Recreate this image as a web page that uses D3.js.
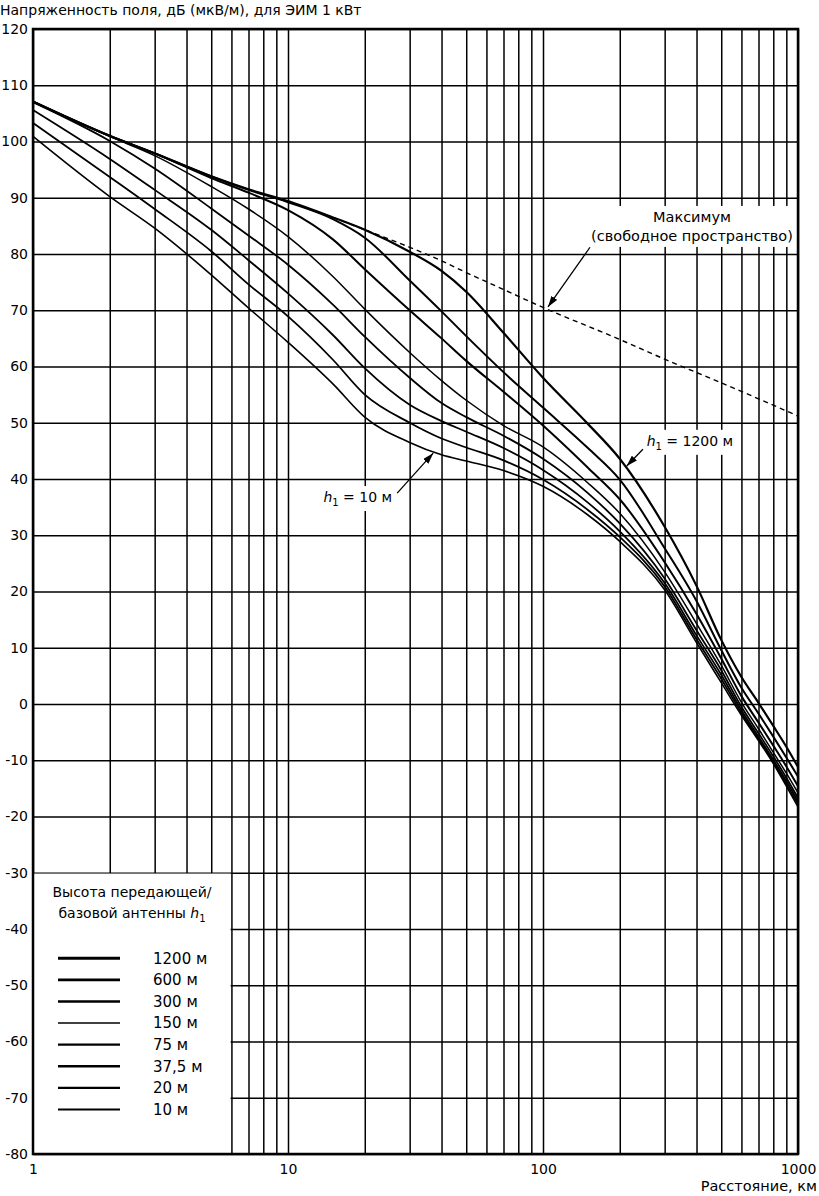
<!DOCTYPE html>
<html>
<head>
<meta charset="utf-8">
<script src="https://cdn.jsdelivr.net/npm/d3@7/dist/d3.min.js"></script>
<style>
  body { margin: 0; background: #fff; }
  svg { display: block; }
  text { font-family: "DejaVu Sans", sans-serif; fill: #000; }
</style>
</head>
<body>
<div id="chart"></div>
<script>
// distances, km
const distances = [1, 2, 3, 5, 7, 10, 15, 20, 30, 40, 50, 70, 100, 150, 200, 300, 400, 500, 600, 700, 800, 900, 1000];

// field strength, dB(uV/m) for each antenna height
const field1200 = [107.1, 101.0, 97.9, 93.8, 91.5, 89.4, 86.5, 84.3, 80.4, 77.0, 73.3, 66.0, 58.0, 49.8, 43.6, 31.5, 21.0, 11.4, 4.8, 0.2, -3.9, -7.6, -11.2];
const field600 = [107.1, 101.0, 97.9, 93.8, 91.4, 89.2, 86.2, 82.9, 75.3, 69.8, 65.4, 59.0, 52.7, 45.5, 39.9, 27.7, 18.3, 9.6, 2.9, -1.7, -5.8, -9.5, -12.9];
const field300 = [107.1, 101.0, 97.9, 93.5, 90.9, 87.8, 82.6, 77.3, 70.0, 65.0, 61.0, 55.5, 49.5, 42.0, 36.4, 25.2, 16.0, 8.1, 1.4, -3.3, -7.4, -11.1, -14.6];
const field150 = [107.1, 100.9, 97.5, 92.0, 88.0, 83.1, 76.0, 70.2, 62.5, 57.5, 54.0, 49.5, 45.7, 39.3, 33.9, 23.5, 14.3, 6.9, 0.3, -4.4, -8.6, -12.3, -15.8];
const field75 = [107.0, 100.1, 95.2, 88.1, 83.3, 78.1, 71.0, 65.3, 58.0, 53.5, 51.0, 47.7, 43.6, 37.5, 32.1, 22.3, 13.1, 6.0, -0.5, -5.2, -9.3, -13.1, -16.7];
const field37 = [105.6, 96.9, 91.4, 84.3, 78.9, 73.0, 65.6, 59.7, 53.2, 50.3, 48.4, 45.5, 41.6, 35.8, 30.7, 21.5, 12.2, 5.2, -1.1, -5.8, -9.9, -13.7, -17.3];
const field20 = [103.3, 93.7, 88.0, 80.5, 74.6, 68.9, 61.2, 55.0, 50.0, 47.2, 45.6, 43.3, 39.9, 34.5, 29.7, 20.9, 11.5, 4.5, -1.6, -6.2, -10.3, -14.2, -17.8];
const field10 = [100.9, 90.2, 84.6, 76.3, 70.4, 64.3, 56.9, 51.0, 46.5, 44.3, 43.2, 41.5, 38.7, 33.6, 28.9, 20.3, 10.9, 3.8, -2.0, -6.5, -10.6, -14.6, -18.3];

const heightLabels = ['1200 м', '600 м', '300 м', '150 м', '75 м', '37,5 м', '20 м', '10 м'];

// free-space maximum (dashed), only where it separates from the top curve
const freeDist = [15, 20, 30, 40, 50, 70, 100, 200, 300, 500, 1000];
const freeField = [86.5, 84.3, 81.2, 78.8, 76.7, 73.7, 70.5, 64.8, 61.3, 57.1, 51.2];

const yTicks = [120, 110, 100, 90, 80, 70, 60, 50, 40, 30, 20, 10, 0, -10, -20, -30, -40, -50, -60, -70, -80];
const xGridTicks = [1, 2, 3, 4, 5, 6, 7, 8, 9, 10, 20, 30, 40, 50, 60, 70, 80, 90, 100,
                    200, 300, 400, 500, 600, 700, 800, 900, 1000];
const xLabelTicks = [1, 10, 100, 1000];

const width = 819;
const height = 1196;
const margin = { top: 29, right: 21, bottom: 42, left: 33 };
const plotW = width - margin.left - margin.right;
const plotH = height - margin.top - margin.bottom;

const svg = d3.select('#chart')
    .append('svg')
    .attr('width', width)
    .attr('height', height);

const defs = svg.append('defs');
defs.append('marker')
    .attr('id', 'arrow')
    .attr('markerUnits', 'userSpaceOnUse')
    .attr('markerWidth', 11)
    .attr('markerHeight', 7)
    .attr('refX', 11)
    .attr('refY', 3.5)
    .attr('orient', 'auto')
    .append('path')
    .attr('d', 'M0,0 L11,3.5 L0,7 Z')
    .attr('fill', '#000');

const x = d3.scaleLog().domain([1, 1000]).range([0, plotW]);
const y = d3.scaleLinear().domain([-80, 120]).range([plotH, 0]);

const g = svg.append('g')
    .attr('transform', `translate(${margin.left}, ${margin.top})`);

// title
svg.append('text')
    .attr('x', 0)
    .attr('y', 15)
    .attr('font-size', 14)
    .text('Напряженность поля, дБ (мкВ/м), для ЭИМ 1 кВт');

// grid via axes (plain hyphen for negatives, like the original)
const yAxis = g.append('g')
    .call(d3.axisLeft(y).tickValues(yTicks).tickSize(-plotW).tickPadding(5).tickFormat(d => String(d)));
const xAxis = g.append('g')
    .attr('transform', `translate(0, ${plotH})`)
    .call(d3.axisBottom(x).tickValues(xGridTicks).tickSize(plotH).tickPadding(8)
        .tickFormat(d => xLabelTicks.includes(d) ? d : ''));

xAxis.selectAll('.tick line').attr('y1', 0).attr('y2', -plotH);
xAxis.selectAll('.tick text').attr('y', 8).attr('dy', '0.85em');
[yAxis, xAxis].forEach(a => {
    a.select('.domain').remove();
    a.selectAll('.tick line').attr('stroke', '#000').attr('stroke-width', 1.5);
    a.selectAll('.tick text').attr('font-size', 14).attr('font-family', '"DejaVu Sans", sans-serif').attr('fill', '#000');
});
yAxis.selectAll('.tick text').attr('x', -5);

// white legend area in lower-left corner, bounded by the 6 km line and -30 dB line
g.append('rect')
    .attr('x', 0)
    .attr('y', y(-30) + 0.8)
    .attr('width', x(6) - 0.8)
    .attr('height', plotH - y(-30) - 0.8)
    .attr('fill', '#fff');

const labelBg = g.append('g');

// curves
const seriesValues = [field1200, field600, field300, field150, field75, field37, field20, field10];
const lineWidths = [2.2, 2.0, 2.0, 1.5, 1.8, 1.8, 1.8, 1.6];

const line = d3.line()
    .x(d => x(d[0]))
    .y(d => y(d[1]))
    .curve(d3.curveMonotoneX);

g.append('path')
    .datum(d3.zip(freeDist, freeField))
    .attr('d', line)
    .attr('fill', 'none')
    .attr('stroke', '#000')
    .attr('stroke-width', 1.4)
    .attr('stroke-dasharray', '5,4');

g.selectAll('.curve')
    .data(seriesValues)
    .enter().append('path')
    .attr('class', 'curve')
    .attr('d', vals => line(d3.zip(distances, vals)))
    .attr('fill', 'none')
    .attr('stroke', '#000')
    .attr('stroke-width', (d, i) => lineWidths[i])
    .attr('stroke-linejoin', 'round');

// frame
g.append('rect')
    .attr('width', plotW)
    .attr('height', plotH)
    .attr('fill', 'none')
    .attr('stroke', '#000')
    .attr('stroke-width', 2.5);

// x axis title
svg.append('text')
    .attr('x', 817)
    .attr('y', 1191)
    .attr('text-anchor', 'end')
    .attr('font-size', 14.5)
    .text('Расстояние, км');

// annotations
const notes = g.append('g');

function addH1(sel, rest) {
    sel.append('tspan').attr('font-style', 'italic').text('h');
    sel.append('tspan').attr('font-size', 10).attr('dy', 4).text('1');
    sel.append('tspan').attr('dy', -4).text(rest);
}

const maxLabel = notes.append('text')
    .attr('x', x(384))
    .attr('y', y(85.7))
    .attr('text-anchor', 'middle')
    .attr('font-size', 14.5);
maxLabel.append('tspan').attr('x', x(384)).text('Максимум');
maxLabel.append('tspan').attr('x', x(384)).attr('dy', 19).text('(свободное пространство)');

const label1200 = notes.append('text')
    .attr('x', x(255))
    .attr('y', y(45.9))
    .attr('font-size', 14);
addH1(label1200, ' = 1200 м');

const label10 = notes.append('text')
    .attr('x', x(25.6))
    .attr('y', y(35.9))
    .attr('text-anchor', 'end')
    .attr('font-size', 14);
addH1(label10, ' = 10 м');

[maxLabel, label1200, label10].forEach(t => {
    const b = t.node().getBBox();
    labelBg.append('rect')
        .attr('x', b.x - 4)
        .attr('y', b.y - 3)
        .attr('width', b.width + 8)
        .attr('height', b.height + 6)
        .attr('fill', '#fff');
});

const arrows = [
    { from: [152.9, 81.2], to: [104.6, 70.6] },
    { from: [246.6, 45.3], to: [213, 42.3] },
    { from: [26.8, 37.5], to: [37.1, 44.6] }
];
notes.selectAll('.arrow')
    .data(arrows)
    .enter().append('line')
    .attr('class', 'arrow')
    .attr('x1', d => x(d.from[0]))
    .attr('y1', d => y(d.from[1]))
    .attr('x2', d => x(d.to[0]))
    .attr('y2', d => y(d.to[1]))
    .attr('stroke', '#000')
    .attr('stroke-width', 1.3)
    .attr('marker-end', 'url(#arrow)');

// legend
const legend = g.append('g')
    .attr('transform', `translate(0, ${y(-30)})`);
const legendTitle = legend.append('text')
    .attr('x', 99)
    .attr('y', 24)
    .attr('text-anchor', 'middle')
    .attr('font-size', 14);
legendTitle.append('tspan').attr('x', 99).text('Высота передающей/');
const t2 = legendTitle.append('tspan').attr('x', 99).attr('dy', 21).text('базовой антенны ');
t2.append('tspan').attr('font-style', 'italic').text('h');
t2.append('tspan').attr('font-size', 10).attr('dy', 4).text('1');

const legendWidths = [3.0, 2.6, 2.6, 1.6, 2.4, 2.4, 2.2, 2.0];
const rows = legend.selectAll('.row')
    .data(heightLabels)
    .enter().append('g')
    .attr('class', 'row')
    .attr('transform', (d, i) => `translate(0, ${85.5 + i * 21.6})`);
rows.append('line')
    .attr('x1', 25)
    .attr('x2', 87)
    .attr('stroke', '#000')
    .attr('stroke-width', (d, i) => legendWidths[i]);
rows.append('text')
    .attr('x', 120)
    .attr('dy', '0.35em')
    .attr('font-size', 15)
    .text(d => d);
</script>
</body>
</html>
